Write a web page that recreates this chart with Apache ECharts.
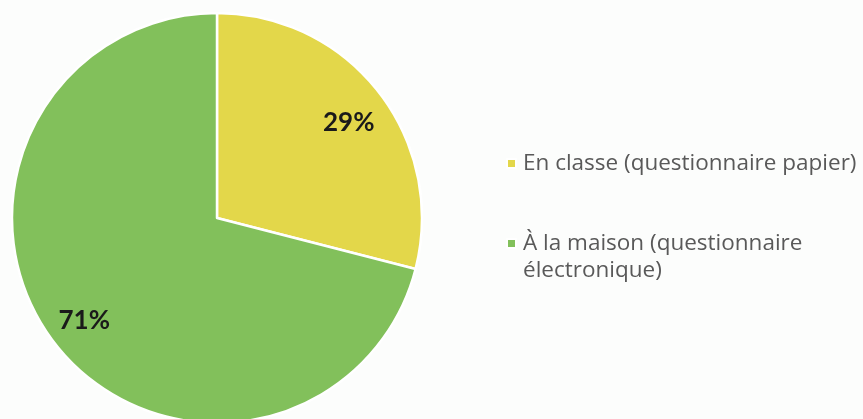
<!DOCTYPE html>
<html>
<head>
<meta charset="utf-8">
<script src="https://cdn.jsdelivr.net/npm/echarts@6/dist/echarts.min.js"></script>
<style>
  html, body { margin: 0; padding: 0; background: #fcfdfc; }
  #chart { width: 863px; height: 419px; }
</style>
</head>
<body>
<div id="chart"></div>
<script>
// Data
const categories = ['En classe (questionnaire papier)', 'À la maison (questionnaire électronique)'];
const legendLines = ['En classe (questionnaire papier)', '\nÀ la maison (questionnaire\nélectronique)'];
const shares = [29, 71];
const colors = ['#e3d74a', '#82c05b'];

const pieData = categories.map((name, i) => ({
    name: name,
    value: shares[i],
    itemStyle: { color: colors[i] }
}));

const chart = echarts.init(document.getElementById('chart'));
chart.setOption({
    backgroundColor: '#fcfdfc',
    animation: false,
    legend: {
        orient: 'vertical',
        left: 501,
        top: 145,
        itemWidth: 9,
        itemHeight: 9,
        itemGap: 26,
        icon: 'rect',
        selectedMode: false,
        data: categories,
        formatter: function(name) {
            return legendLines[categories.indexOf(name)];
        },
        textStyle: {
            fontFamily: 'Open Sans',
            fontSize: 22.5,
            lineHeight: 27,
            color: '#595959',
            padding: [0, 0, 0, 2]
        }
    },
    series: [{
        type: 'pie',
        center: [217, 218],
        radius: [0, 205],
        startAngle: 90,
        clockwise: true,
        silent: true,
        data: pieData,
        itemStyle: { borderColor: '#ffffff', borderWidth: 2.5 },
        label: { show: false },
        labelLine: { show: false }
    }, {
        // transparent ring only used to place the percentage labels
        type: 'pie',
        center: [217, 218],
        radius: [125, 205],
        startAngle: 90,
        clockwise: true,
        silent: true,
        data: pieData.map((d, i) => ({
            name: d.name,
            value: d.value,
            label: i === 0 ? { offset: [-1, 8] } : {}
        })),
        itemStyle: { color: 'rgba(0,0,0,0)', borderWidth: 0 },
        label: {
            show: true,
            position: 'inside',
            formatter: '{c}%',
            fontFamily: 'Lato',
            fontWeight: 'bold',
            fontSize: 26,
            color: '#1a1a1a'
        },
        labelLine: { show: false }
    }]
});
</script>
</body>
</html>
